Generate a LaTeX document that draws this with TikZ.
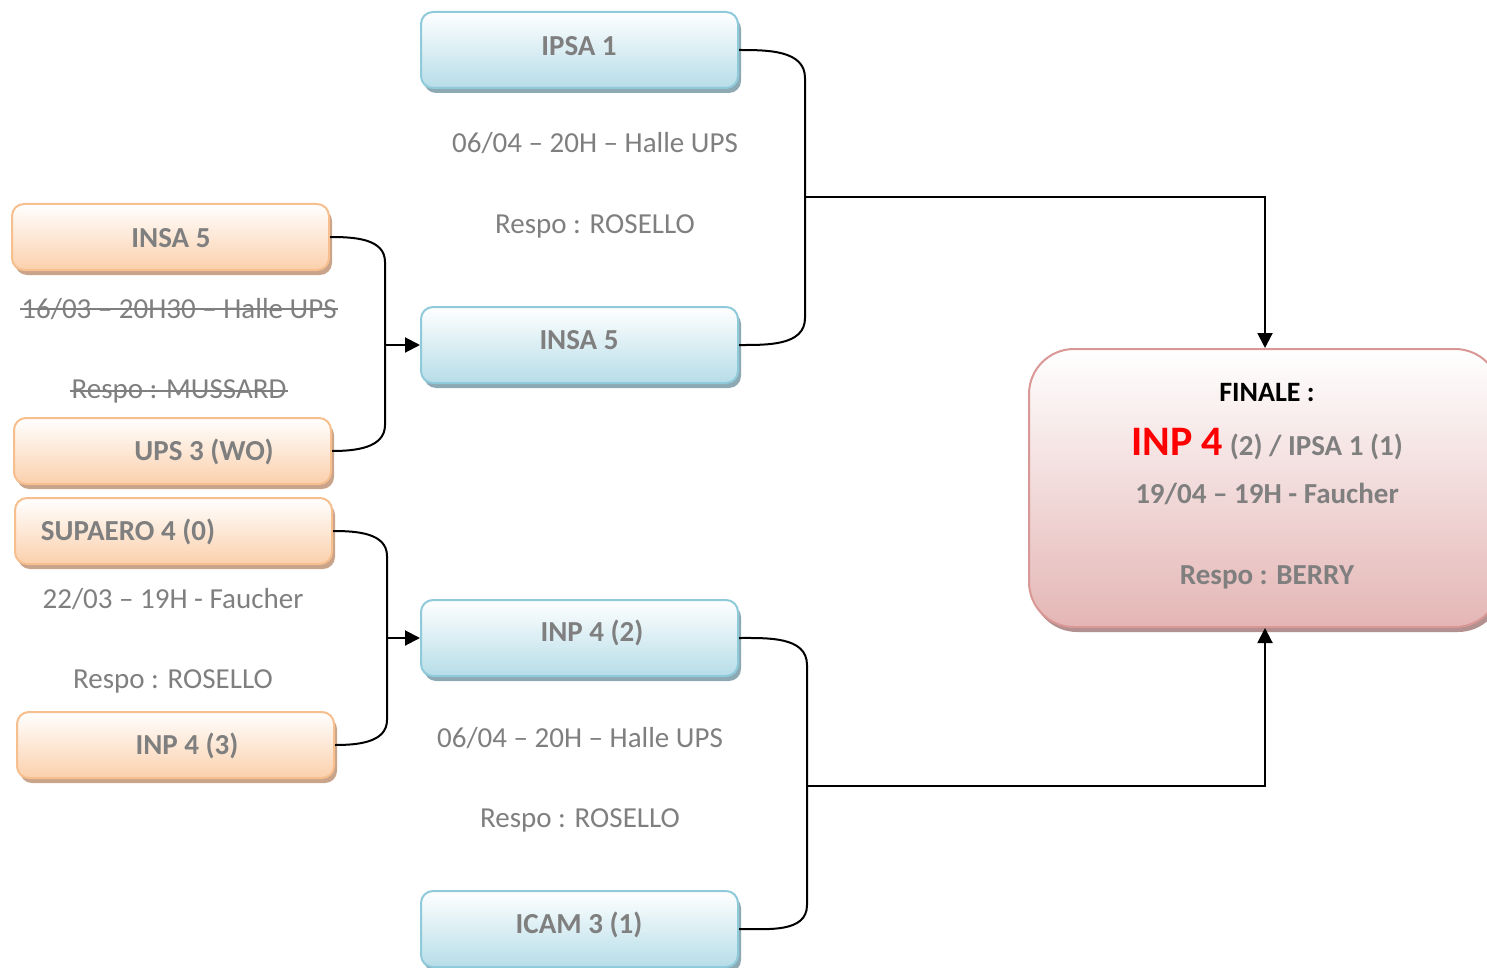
\documentclass[tikz,border=0pt]{standalone}
\usepackage{fontspec}
\setmainfont{Carlito}
\usetikzlibrary{shadows,arrows.meta}
\definecolor{txtgray}{HTML}{7F7F7F}
\definecolor{bluebd}{HTML}{8FCADB}
\definecolor{bluebot}{HTML}{B6DDE8}
\definecolor{blueshd}{HTML}{8DA9B3}
\definecolor{orgbd}{HTML}{F7BE8E}
\definecolor{orgbot}{HTML}{FBD0AC}
\definecolor{orgshd}{HTML}{C9A48A}
\definecolor{pinkbd}{HTML}{D99795}
\definecolor{pinkbot}{HTML}{E4B6B5}
\definecolor{pinkshd}{HTML}{B39190}
\tikzset{
  x=1pt,y=-1pt,
  bluebox/.style={rectangle,rounded corners=12pt,minimum width=317pt,minimum height=76pt,inner sep=0pt,
    draw=bluebd,line width=2pt,top color=white,bottom color=bluebot,
    general shadow={fill=blueshd,shadow xshift=3pt,shadow yshift=-5pt}},
  orgbox/.style={rectangle,rounded corners=12pt,minimum width=317pt,minimum height=66pt,inner sep=0pt,
    draw=orgbd,line width=2pt,top color=white,bottom color=orgbot,
    general shadow={fill=orgshd,shadow xshift=3pt,shadow yshift=-5pt}},
  finbox/.style={rectangle,rounded corners=45pt,minimum width=471pt,minimum height=278pt,inner sep=0pt,
    draw=pinkbd,line width=2pt,top color=white,bottom color=pinkbot,
    general shadow={fill=pinkshd,shadow xshift=3pt,shadow yshift=-5pt}},
  team/.style={text=txtgray,font=\fontsize{29}{34}\selectfont\bfseries,inner sep=0pt},
  info/.style={text=txtgray,font=\fontsize{29}{34}\selectfont,inner sep=0pt},
  fin/.style={text=txtgray,font=\fontsize{29}{34}\selectfont\bfseries,inner sep=0pt},
  strike/.style={draw=txtgray,line width=2pt},
  conn/.style={line width=2pt,black},
  arr/.style={line width=2pt,black,-{Triangle[length=15pt,width=15pt]}}
}
\begin{document}
\begin{tikzpicture}
\useasboundingbox (0,0) rectangle (1487,968);
\clip (0,0) rectangle (1487,968);
% blue boxes
\node[bluebox] (ipsa) at (579.5,50) {};
\node[team] (ipsaT) at (579,46) {IPSA 1};
\node[bluebox] (insaB) at (579.5,345) {};
\node[team] (insaBT) at (579,340) {INSA 5};
\node[bluebox] (inpB) at (579.5,638) {};
\node[team] (inpBT) at (592,633) {INP 4 (2)};
\node[bluebox] (icam) at (579.5,929) {};
\node[team] (icamT) at (579,925) {ICAM 3 (1)};
% orange boxes
\node[orgbox] (insaO) at (170.5,237) {};
\node[team] (insaOT) at (171,238) {INSA 5};
\node[orgbox] (ups) at (172.5,451) {};
\node[team] (upsT) at (204,452) {UPS 3 (WO)};
\node[orgbox] (sup) at (173.5,531) {};
\node[team] (supT) at (128,532) {SUPAERO 4 (0)};
\node[orgbox] (inpO) at (175.5,745) {};
\node[team] (inpOT) at (187,746) {INP 4 (3)};
% finale
\node[finbox] (fin) at (1264.5,488) {};
\node[inner sep=0pt,font=\fontsize{28}{33}\selectfont\bfseries] (finT) at (1267,393) {FINALE :};
\node[fin] (finM) at (1267,444) {\textcolor{red}{\fontsize{42}{46}\selectfont INP 4} {\fontsize{29}{33}\selectfont(2) / IPSA 1 (1)}};
\node[fin] (finD) at (1267,494) {19/04 -- 19H - Faucher};
\node[fin] (finR) at (1267,577) {Respo : BERRY};
% info texts
\node[info] (i1) at (595,143) {06/04 -- 20H -- Halle UPS};
\node[info] (r1) at (595,226) {Respo : ROSELLO};
\node[info] (i2) at (179,309) {16/03 -- 20H30 -- Halle UPS};
\node[info] (r2) at (179,391) {Respo : MUSSARD};
\draw[strike] ([xshift=-1pt,yshift=0pt]i2.west) -- ([xshift=1pt,yshift=0pt]i2.east);
\draw[strike] ([xshift=-1pt,yshift=0pt]r2.west) -- ([xshift=1pt,yshift=0pt]r2.east);
\node[info] (i3) at (173,599) {22/03 -- 19H - Faucher};
\node[info] (r3) at (173,681) {Respo : ROSELLO};
\node[info] (i4) at (580,738) {06/04 -- 20H -- Halle UPS};
\node[info] (r4) at (580,820) {Respo : ROSELLO};
% junction coordinates
\coordinate (j1) at (385,345);
\coordinate (j2) at (387,638);
\coordinate (j3) at (805,197);
\coordinate (j4) at (807,786);
\coordinate (f1) at (1265,197);
\coordinate (f2) at (1265,786);
% brackets
\draw[conn] (insaO.east) to[out=0,in=90] (385,262) -- (385,425) to[out=-90,in=0] (ups.east);
\draw[arr] (j1) -- (insaB.west |- j1);
\draw[conn] (sup.east) to[out=0,in=90] (387,556) -- (387,720) to[out=-90,in=0] (inpO.east);
\draw[arr] (j2) -- (inpB.west |- j2);
\draw[conn] (ipsa.east) to[out=0,in=90] (805,78) -- (805,318) to[out=-90,in=0] (insaB.east);
\draw[arr] (j3) -- (f1) -- (fin.north -| f1);
\draw[conn] (inpB.east) to[out=0,in=90] (807,665) -- (807,905) to[out=-90,in=0] (icam.east);
\draw[arr] (j4) -- (f2) -- (fin.south -| f2);
\end{tikzpicture}
\end{document}
